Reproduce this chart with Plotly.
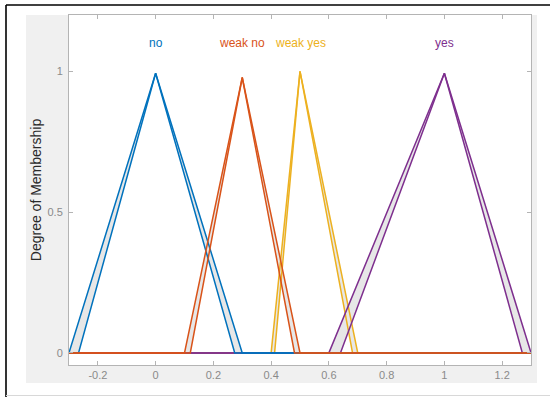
import plotly.graph_objects as go

# ---- data ----
names = ["no", "weak no", "weak yes", "yes"]
colors = ["#0072BD", "#D95319", "#EDB120", "#7E2F8E"]
upper_a = [-0.30, 0.10, 0.40, 0.60]
upper_c = [0.30, 0.50, 0.70, 1.30]
lower_a = [-0.267, 0.12, 0.412, 0.64]
lower_c = [0.274, 0.481, 0.682, 1.27]
peak_x = [0.0, 0.30, 0.50, 1.00]
peak_y = [0.993, 0.978, 1.0, 0.993]
x_min, x_max = -0.3, 1.3
x_ticks = [-0.2, 0, 0.2, 0.4, 0.6, 0.8, 1, 1.2]
x_tick_labels = ["-0.2", "0", "0.2", "0.4", "0.6", "0.8", "1", "1.2"]
y_ticks = [0, 0.5, 1]
y_tick_labels = ["0", "0.5", "1"]
label_y = 1.1
line_order = [2, 3, 0, 1]  # weak yes, yes, no, weak no (last on top)

fig = go.Figure()

# footprint of uncertainty (shaded)
for i in range(4):
    xs = [upper_a[i], peak_x[i], upper_c[i], lower_c[i], peak_x[i], lower_a[i], upper_a[i]]
    ys = [0, peak_y[i], 0, 0, peak_y[i], 0, 0]
    fig.add_trace(go.Scatter(x=xs, y=ys, fill="toself", fillcolor="#e7e7e7",
                             line=dict(width=0), mode="lines", hoverinfo="skip",
                             showlegend=False))

# upper and lower MFs over the full range
for i in line_order:
    for a, c in ((upper_a[i], upper_c[i]), (lower_a[i], lower_c[i])):
        xs = [x_min, a, peak_x[i], c, x_max]
        ys = [0, 0, peak_y[i], 0, 0]
        fig.add_trace(go.Scatter(x=xs, y=ys, mode="lines",
                                 line=dict(color=colors[i], width=1.5),
                                 showlegend=False, cliponaxis=False))

for i in range(4):
    fig.add_annotation(x=peak_x[i], y=label_y, text=names[i], showarrow=False,
                       font=dict(family="Liberation Sans, Arial", size=12, color=colors[i]),
                       xanchor="center", yanchor="middle")

L, R, T, B = 69, 19, 15, 32
W, H = 550, 397
pw, ph = W - L - R, H - T - B

def px(xp):
    return (xp - L) / pw

def py(yp):
    return (H - B - yp) / ph

shapes = [
    dict(type="rect", xref="paper", yref="paper", x0=px(26), x1=px(537), y0=py(383), y1=py(15),
         fillcolor="#f0f0f0", line=dict(width=0), layer="below"),
    dict(type="rect", xref="paper", yref="paper", x0=0, x1=1, y0=0, y1=1,
         fillcolor="white", line=dict(width=0), layer="below"),
    dict(type="line", xref="paper", yref="paper", x0=px(6), x1=px(552), y0=py(5), y1=py(5),
         line=dict(color="black", width=1.6)),
    dict(type="line", xref="paper", yref="paper", x0=px(6), x1=px(6), y0=py(5), y1=py(399),
         line=dict(color="black", width=1.6)),
    dict(type="line", xref="paper", yref="paper", x0=px(6), x1=px(552), y0=py(395.5), y1=py(395.5),
         line=dict(color="#d8d8d8", width=1)),
]

axis_common = dict(showgrid=False, zeroline=False, showline=True, linecolor="#b4b4b4",
                   linewidth=1, mirror="ticks", ticks="inside", ticklen=4,
                   tickcolor="#b4b4b4",
                   tickfont=dict(family="Liberation Sans, Arial", size=11, color="#8a8a8a"))

fig.update_layout(
    width=W, height=H,
    margin=dict(l=L, r=R, t=T, b=B, pad=0),
    paper_bgcolor="white", plot_bgcolor="rgba(0,0,0,0)",
    shapes=shapes,
    xaxis=dict(range=[x_min, x_max], tickvals=x_ticks, ticktext=x_tick_labels, **axis_common),
    yaxis=dict(range=[-0.043, 1.2], tickvals=y_ticks, ticktext=y_tick_labels,
               title=dict(text="Degree of Membership", standoff=2,
                          font=dict(family="Liberation Sans, Arial", size=14, color="#2a2a2a")),
               ticklabelstandoff=3, **axis_common),
)

fig.write_html("out.html")
